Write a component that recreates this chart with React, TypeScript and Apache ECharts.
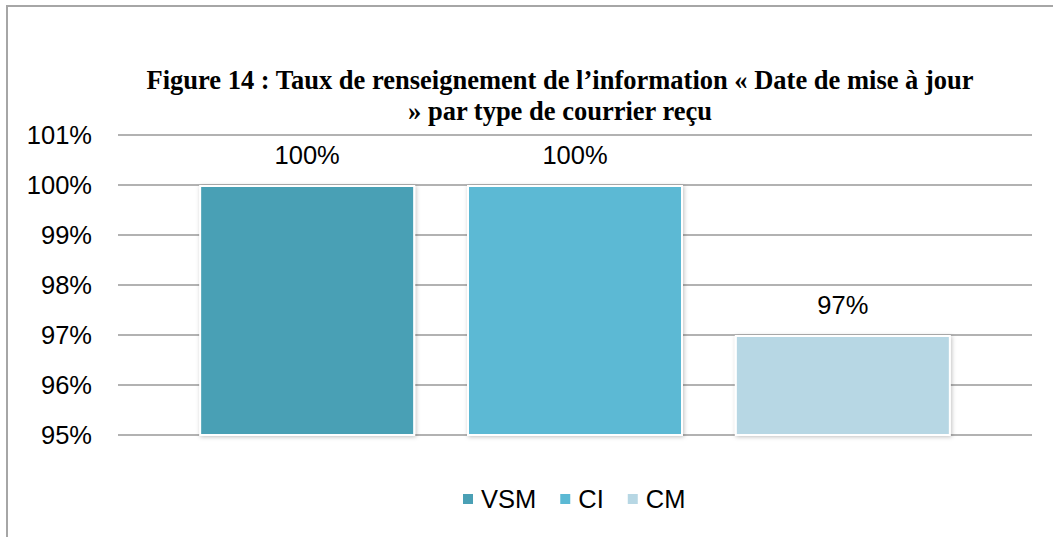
import React, { useEffect, useRef } from "react";
import * as echarts from "echarts";

const categories = ["Type de courrier"];
const seriesNames = ["VSM", "CI", "CM"];
const seriesValues = [100, 100, 97];
const seriesColors = ["#4AA0B5", "#5BB9D4", "#B7D7E4"];
const yMin = 95;
const yMax = 101;
const yInterval = 1;
const titleText =
  "Figure 14 : Taux de renseignement de l\u2019information \u00ab Date de mise \u00e0 jour\n\u00bb par type de courrier re\u00e7u";

export default function App() {
  const ref = useRef<HTMLDivElement>(null);
  useEffect(() => {
    if (!ref.current) return;
    const chart = echarts.init(ref.current, undefined, { renderer: "svg" });
    chart.setOption({
      animation: false,
      backgroundColor: "#ffffff",
      graphic: [
        {
          type: "rect",
          shape: { x: 7, y: 6, width: 1100, height: 600 },
          style: { fill: "none", stroke: "#A6A6A6", lineWidth: 2 },
          silent: true,
          z: -1,
        },
        {
          type: "text",
          x: 560,
          y: 64,
          silent: true,
          style: {
            text: titleText,
            align: "center",
            verticalAlign: "top",
            fontFamily: "'Liberation Serif', 'Times New Roman', serif",
            fontWeight: "bold",
            fontSize: 26.5,
            lineHeight: 31,
            fill: "#000",
          },
        },
      ],
      legend: {
        data: seriesNames,
        bottom: 20,
        left: 456,
        itemWidth: 12,
        itemHeight: 12,
        itemGap: 22,
        icon: "rect",
        textStyle: {
          fontFamily: "'Liberation Sans', Arial, sans-serif",
          fontSize: 25.5,
          color: "#000",
          padding: [2, 0, 0, 2],
        },
      },
      grid: { left: 118, right: 21, top: 135, bottom: 102, containLabel: false },
      xAxis: {
        type: "category",
        data: categories,
        axisLine: { show: false },
        axisTick: { show: false },
        axisLabel: { show: false },
      },
      yAxis: {
        type: "value",
        min: yMin,
        max: yMax,
        interval: yInterval,
        axisLine: { show: false },
        axisTick: { show: false },
        axisLabel: {
          formatter: "{value}%",
          margin: 26,
          fontFamily: "'Liberation Sans', Arial, sans-serif",
          fontSize: 25.5,
          color: "#000",
        },
        splitLine: { lineStyle: { color: "#999999", width: 1.5 } },
      },
      series: seriesNames.map((name, i) => ({
        name,
        type: "bar",
        data: [seriesValues[i]],
        barWidth: 216,
        barGap: "24%",
        itemStyle: {
          color: seriesColors[i],
          borderColor: "#ffffff",
          borderWidth: 2,
          shadowColor: "rgba(0,0,0,0.25)",
          shadowBlur: 4,
          shadowOffsetX: 1,
          shadowOffsetY: 1,
        },
        label: {
          show: true,
          position: "top",
          distance: 17,
          formatter: "{c}%",
          fontFamily: "'Liberation Sans', Arial, sans-serif",
          fontSize: 25.5,
          color: "#000",
        },
      })),
    });
    return () => chart.dispose();
  }, []);
  return (
    <div
      ref={ref}
      style={{ position: "absolute", left: 0, top: 0, width: 1053, height: 537 }}
    />
  );
}
